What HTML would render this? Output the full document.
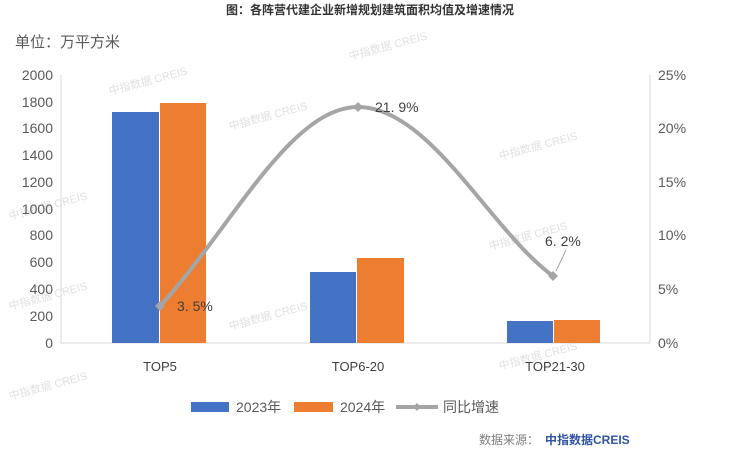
<!DOCTYPE html>
<html><head><meta charset="utf-8"><style>
html,body{margin:0;padding:0;background:#fff;width:740px;height:453px;overflow:hidden}
svg text{font-family:"Liberation Sans","Noto Sans CJK SC",sans-serif}
</style></head><body>
<svg width="740" height="453" viewBox="0 0 740 453" xmlns="http://www.w3.org/2000/svg">
<text x="370" y="14" text-anchor="middle" font-size="12" font-weight="bold" fill="#333">图：各阵营代建企业新增规划建筑面积均值及增速情况</text>
<text x="15" y="47" font-size="15" fill="#595959">单位：万平方米</text>
<g font-size="11" fill="#ddd" opacity="0.9">
<text transform="translate(110,95) rotate(-15)">中指数据 CREIS</text>
<text transform="translate(230,130) rotate(-15)">中指数据 CREIS</text>
<text transform="translate(350,60) rotate(-15)">中指数据 CREIS</text>
<text transform="translate(490,250) rotate(-15)">中指数据 CREIS</text>
<text transform="translate(500,160) rotate(-15)">中指数据 CREIS</text>
<text transform="translate(10,220) rotate(-15)">中指数据 CREIS</text>
<text transform="translate(10,310) rotate(-15)">中指数据 CREIS</text>
<text transform="translate(230,330) rotate(-15)">中指数据 CREIS</text>
<text transform="translate(500,370) rotate(-15)">中指数据 CREIS</text>
<text transform="translate(10,400) rotate(-15)">中指数据 CREIS</text>
</g>
<line x1="61" y1="75" x2="61" y2="343" stroke="#d9d9d9"/>
<line x1="61" y1="343" x2="650" y2="343" stroke="#d9d9d9"/>
<line x1="650" y1="75" x2="650" y2="343" stroke="#d9d9d9"/>
<g font-size="14" fill="#595959" text-anchor="end">
<text x="53" y="80">2000</text><text x="53" y="107">1800</text><text x="53" y="133">1600</text>
<text x="53" y="160">1400</text><text x="53" y="187">1200</text><text x="53" y="214">1000</text>
<text x="53" y="240">800</text><text x="53" y="267">600</text><text x="53" y="294">400</text>
<text x="53" y="321">200</text><text x="53" y="348">0</text>
</g>
<g font-size="14" fill="#595959">
<text x="658" y="80">25%</text><text x="658" y="133">20%</text><text x="658" y="187">15%</text>
<text x="658" y="240">10%</text><text x="658" y="294">5%</text><text x="658" y="348">0%</text>
</g>
<rect x="112" y="112" width="47" height="231" fill="#4472c4"/>
<rect x="160" y="103" width="46" height="240" fill="#ed7d31"/>
<rect x="310" y="272" width="46" height="71" fill="#4472c4"/>
<rect x="357" y="258" width="47" height="85" fill="#ed7d31"/>
<rect x="507" y="321" width="46" height="22" fill="#4472c4"/>
<rect x="554" y="320" width="46" height="23" fill="#ed7d31"/>
<g font-size="13" fill="#404040" text-anchor="middle">
<text x="160" y="371">TOP5</text><text x="358" y="371">TOP6-20</text><text x="555" y="371">TOP21-30</text>
</g>
<path d="M160,306 C230,230 290,107 358,107 C430,107 490,230 553,276" fill="none" stroke="#a5a5a5" stroke-width="4"/>
<g fill="#a5a5a5">
<path d="M160,301 l5,5 l-5,5 l-5,-5z"/><path d="M358,102 l5,5 l-5,5 l-5,-5z"/><path d="M553,271 l5,5 l-5,5 l-5,-5z"/>
</g>
<line x1="556" y1="271" x2="566" y2="250" stroke="#a5a5a5"/>
<g font-size="14" fill="#404040">
<text x="177" y="311">3. 5%</text><text x="375" y="112">21. 9%</text><text x="545" y="246">6. 2%</text>
</g>
<rect x="191" y="402" width="38" height="10" fill="#4472c4"/>
<text x="236" y="412" font-size="14" fill="#595959">2023年</text>
<rect x="294" y="402" width="39" height="10" fill="#ed7d31"/>
<text x="340" y="412" font-size="14" fill="#595959">2024年</text>
<line x1="396" y1="407" x2="438" y2="407" stroke="#a5a5a5" stroke-width="4"/>
<path d="M417,403 l4,4 l-4,4 l-4,-4z" fill="#a5a5a5"/>
<text x="443" y="412" font-size="14" fill="#595959">同比增速</text>
<text x="479" y="444" font-size="12" fill="#7f7f7f">数据来源：</text>
<text x="545" y="444" font-size="12" font-weight="bold" fill="#2e54a6">中指数据CREIS</text>
</svg>
</body></html>
